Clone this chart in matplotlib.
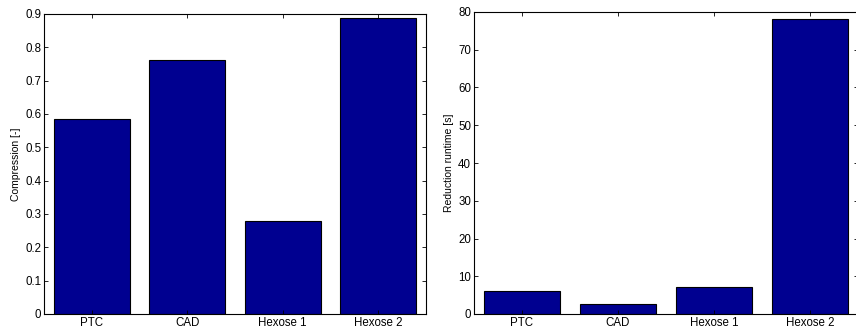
import matplotlib
matplotlib.use("Agg")
import matplotlib.pyplot as plt

categories = ["PTC", "CAD", "Hexose 1", "Hexose 2"]
compression = [0.584, 0.761, 0.278, 0.888]
runtime = [6.1, 2.7, 7.2, 78.2]

plt.rcParams['font.family'] = ['Liberation Sans', 'DejaVu Sans']
W, H = 856, 330
fig = plt.figure(figsize=(W/100, H/100), dpi=100)

bar_color = '#000090'

def setup(ax, vals, ylim, yticks, ylabel):
    x = list(range(1, len(vals)+1))
    ax.bar(x, vals, width=0.8, color=bar_color, edgecolor='black', linewidth=0.8)
    ax.set_xlim(0.5, 4.5)
    ax.set_ylim(*ylim)
    ax.set_xticks(x)
    ax.set_xticklabels(categories)
    ax.set_yticks(yticks)
    ax.set_ylabel(ylabel, fontsize=7.5, labelpad=3)
    ax.tick_params(direction='in', length=3, width=0.6, labelsize=8.3,
                   top=True, right=True, pad=2)
    for s in ax.spines.values():
        s.set_linewidth(0.8)

ax1 = fig.add_axes([44/W, 1-314/H, (426-44)/W, (314-14)/H])
setup(ax1, compression, (0, 0.9), [0, 0.1, 0.2, 0.3, 0.4, 0.5, 0.6, 0.7, 0.8, 0.9],
      'Compression [-]')
ax1.set_yticklabels(['0', '0.1', '0.2', '0.3', '0.4', '0.5', '0.6', '0.7', '0.8', '0.9'])

ax2 = fig.add_axes([474/W, 1-314/H, (858-474)/W, (314-12)/H])
setup(ax2, runtime, (0, 80), list(range(0, 81, 10)), 'Reduction runtime [s]')

fig.savefig('out.png', dpi=100)
